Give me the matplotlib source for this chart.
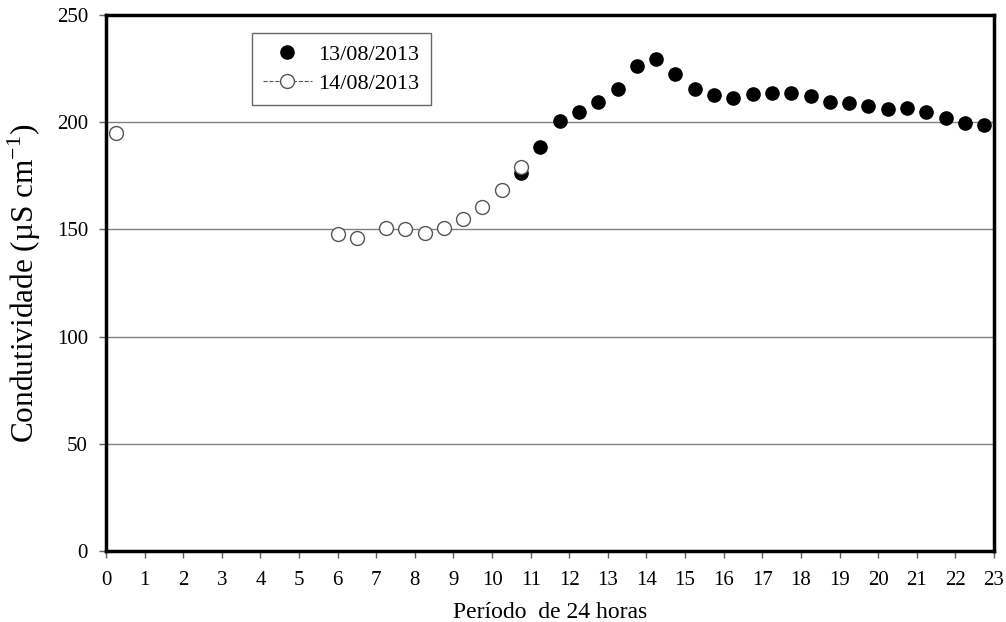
import matplotlib
matplotlib.use('Agg')
import matplotlib.pyplot as plt
from matplotlib.lines import Line2D

# Condutividade ao longo de 24 horas, duas datas de coleta
hora_13 = [10.75, 11.25, 11.75, 12.25, 12.75, 13.25, 13.75, 14.25, 14.75, 15.25,
           15.75, 16.25, 16.75, 17.25, 17.75, 18.25, 18.75, 19.25, 19.75, 20.25,
           20.75, 21.25, 21.75, 22.25, 22.75]
cond_13 = [176.5, 188.4, 200.6, 204.6, 209.4, 215.6, 226.2, 229.3, 222.3, 215.3,
           212.7, 211.4, 213.2, 213.8, 213.5, 212.4, 209.4, 208.8, 207.7, 206.2,
           206.8, 204.6, 202.1, 199.6, 198.6]

hora_14 = [0.25, 6.0, 6.5, 7.25, 7.75, 8.25, 8.75, 9.25, 9.75, 10.25, 10.75]
cond_14 = [194.9, 147.9, 146.1, 150.5, 150.3, 148.5, 150.8, 154.9, 160.3, 168.2, 179.0]

x_ticks = list(range(0, 24))
y_ticks = [0, 50, 100, 150, 200, 250]

plt.rcParams['font.family'] = ['Liberation Serif', 'DejaVu Serif']
plt.rcParams['mathtext.fontset'] = 'custom'
plt.rcParams['mathtext.rm'] = 'Liberation Serif'

fig = plt.figure(figsize=(10.06, 6.22), dpi=100)
ax = fig.add_axes([0.1054, 0.114, 0.8826, 0.862])

ax.plot(hora_13, cond_13, 'o', color='black', markersize=9.5, zorder=3)
ax.plot(hora_14, cond_14, 'o', markerfacecolor='white', markeredgecolor='#555555',
        markeredgewidth=1.0, markersize=10, zorder=4)

ax.set_xlim(0, 23)
ax.set_ylim(0, 250)
ax.set_xticks(x_ticks)
ax.set_yticks(y_ticks)
ax.yaxis.grid(True, color='#808080', linewidth=1.0)
ax.set_axisbelow(True)

for s in ax.spines.values():
    s.set_linewidth(2.5)
    s.set_color('black')

ax.tick_params(axis='both', direction='out', length=5, width=1, color='#606060',
               labelsize=15)
ax.tick_params(axis='x', pad=9)
ax.tick_params(axis='y', pad=8)

ax.set_xlabel('Período  de 24 horas', fontsize=17, labelpad=9)
ax.set_ylabel(r'Condutividade (µS cm$^{\mathregular{-1}}$)', fontsize=22.5, labelpad=10)

handles = [
    Line2D([], [], marker='o', linestyle='none', color='black', markersize=9.5),
    Line2D([], [], marker='o', linestyle='--', color='#555555', linewidth=0.8,
           markerfacecolor='white', markeredgecolor='#555555', markersize=10),
]
leg = ax.legend(handles, ['13/08/2013', '14/08/2013'], loc='upper left',
                bbox_to_anchor=(0.164, 0.966), fontsize=16, frameon=True,
                fancybox=False, edgecolor='#404040', handlelength=2.2,
                handletextpad=0.3, borderpad=0.5, labelspacing=0.4,
                borderaxespad=0)
leg.get_frame().set_linewidth(1.0)

fig.savefig('out.png', dpi=100)
